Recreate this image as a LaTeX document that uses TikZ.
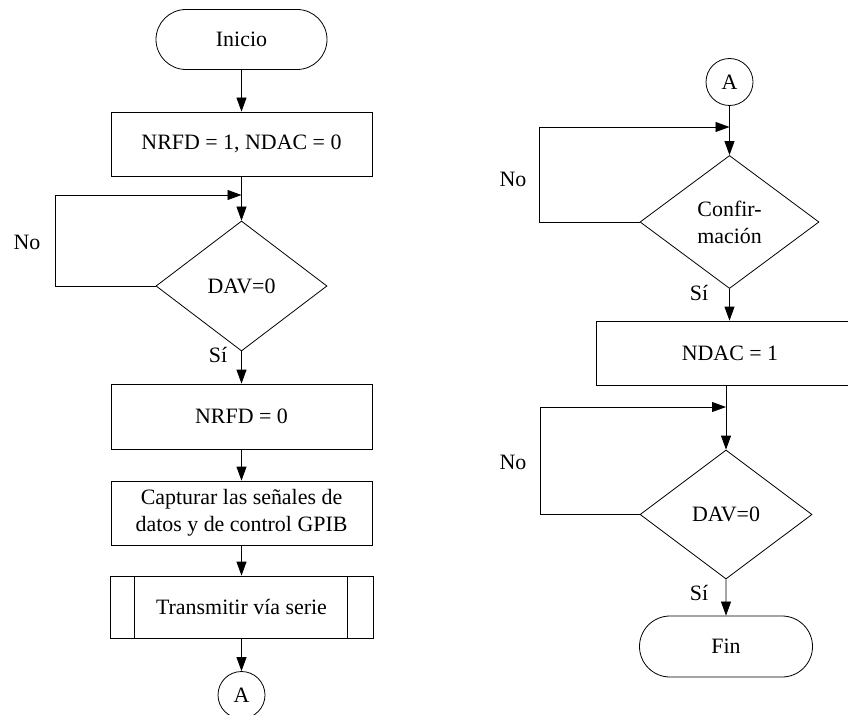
\documentclass[tikz,border=0pt]{standalone}
\usepackage{fontspec}
\setmainfont{Liberation Serif}
\usepackage{tikz}
\usetikzlibrary{arrows.meta,positioning,shapes.misc,shapes.geometric,calc}

\begin{document}
\begin{tikzpicture}[x=1bp,y=-1bp,line width=0.8bp,>={Triangle[length=14bp,width=10bp]},
  every node/.style={font=\fontsize{22}{27}\selectfont,inner sep=0pt},
  proc/.style={draw,rectangle,minimum width=261bp,minimum height=64bp,align=center},
  term/.style={draw,rounded rectangle,minimum width=171bp,minimum height=60bp},
  cond/.style={draw,diamond,align=center},
  conn/.style={draw,circle,minimum size=47bp}]
  % page frame
  \clip (0,0) rectangle (848,715);
  % left column
  \node[term] (inicio) at (241.5,39.5) {Inicio};
  \node[proc] (nrfd1) at (241.5,144) {NRFD = 1, NDAC = 0};
  \node[cond,minimum width=171bp,minimum height=130bp] (dav1) at (241.5,286) {DAV=0};
  \node[proc,minimum height=65bp] (nrfd0) at (241.5,416.5) {NRFD = 0};
  \node[proc] (captura) at (241.5,513) {Capturar las señales de\\datos y de control GPIB};
  \node[proc,minimum width=263bp,minimum height=62bp] (tx) at (241.5,607) {Transmitir vía serie};
  \draw ([xshift=25bp]tx.north west) -- ([xshift=25bp]tx.south west);
  \draw ([xshift=-26bp]tx.north east) -- ([xshift=-26bp]tx.south east);
  \node[conn] (A1) at (241.5,695) {A};
  % right column
  \node[conn] (A2) at (729.5,82) {A};
  \node[cond,minimum width=179bp,minimum height=133bp] (conf) at (729.5,222) {Confir-\\mación};
  \node[proc,minimum width=268bp] (ndac) at (730,353) {NDAC = 1};
  \node[cond,minimum width=172bp,minimum height=129bp] (dav2) at (726,514.5) {DAV=0};
  \node[term,minimum width=173bp,minimum height=61bp] (fin) at (726,646.5) {Fin};
  % junctions where the loops come back
  \coordinate (j1) at (241.5,195);
  \coordinate (j2) at (729.5,127);
  \coordinate (j3) at (726,407);
  % flow lines
  \draw[->] (inicio) -- (nrfd1);
  \draw[->] (nrfd1) -- (dav1);
  \draw[->] (dav1) -- (nrfd0);
  \draw[->] (nrfd0) -- (captura);
  \draw[->] (captura) -- (tx);
  \draw[->] (tx) -- (A1);
  \draw[->] (A2) -- (conf);
  \draw[->] (conf.south) -- (conf.south |- ndac.north);
  \draw[->] (ndac.south -| dav2) -- (dav2.north);
  \draw[->] (dav2) -- (fin);
  % loops back on No
  \draw[->] (dav1.west) -- ++(-100,0) |- (j1);
  \draw[->] (conf.west) -- ++(-100,0) |- (j2);
  \draw[->] (dav2.west) -- ++(-99,0) |- (j3);
  % branch labels
  \node (no1) at (27,242) {No};
  \node (si1) at (218,355) {Sí};
  \node (no2) at (513,179) {No};
  \node (si2) at (699,293) {Sí};
  \node (no3) at (513,462) {No};
  \node (si3) at (699,593) {Sí};
\end{tikzpicture}
\end{document}
